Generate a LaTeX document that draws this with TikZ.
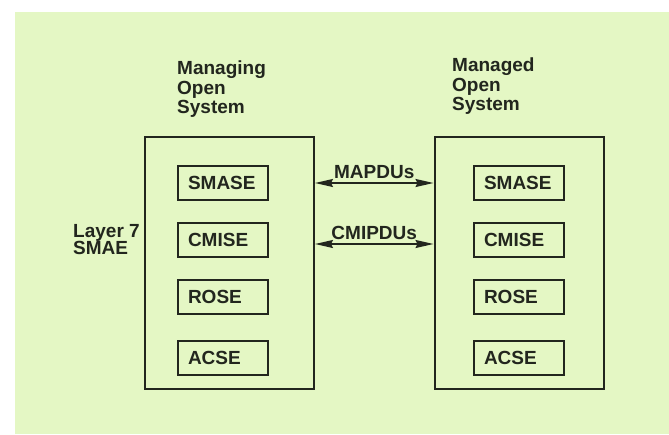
\documentclass[tikz,border=0pt]{standalone}
\usepackage{fontspec}
\setmainfont{Liberation Sans}
\usetikzlibrary{arrows.meta}
\definecolor{paper}{RGB}{228,247,196}
\definecolor{ink}{RGB}{34,38,30}
\newcommand\tightleading{\lineskiplimit=-20pt\relax}

\begin{document}
\begin{tikzpicture}[x=1pt,y=-1pt,
  every node/.style={font=\fontsize{19}{19.3}\selectfont\bfseries, text=ink},
  system/.style={draw=ink, line width=2pt, minimum width=169pt, minimum height=252pt, inner sep=0pt},
  entity/.style={draw=ink, line width=1.8pt, minimum width=90pt, minimum height=34pt, text width=70pt, inner xsep=10pt, inner ysep=0pt, align=left},
  caption/.style={anchor=north west, inner sep=0pt, align=left},
  pdu/.style={draw=ink, line width=1.7pt, {Stealth[length=18pt,width=8pt,inset=2pt]}-{Stealth[length=18pt,width=8pt,inset=2pt]}}]
\useasboundingbox (0,0) rectangle (669,434);
\fill[white] (0,0) rectangle (669,434);
\fill[paper] (15,12) rectangle (669,434);
% the two open systems
\node[system] (managing) at (229.5,262.5) {};
\node[system] (managed) at (519,262.5) {};
\node[caption] (managingtitle) at (177,61) {Managing\\Open\\System};
\node[caption] (managedtitle) at (452,58) {Managed\\Open\\System};
\node[caption, font=\fontsize{19}{17.3}\selectfont\bfseries\tightleading] (layer) at (73,224) {Layer 7\\SMAE};
% application service elements
\foreach \name/\y in {SMASE/183, CMISE/240, ROSE/297, ACSE/358} {
  \node[entity] (l\name) at (223,\y) {\name};
  \node[entity] (r\name) at (519,\y) {\name};
}
% exchanged PDUs
\coordinate (cmiplane) at (373,244);
\draw[pdu] (managing.east |- lSMASE) -- (managed.west |- lSMASE) node[midway, above=3pt, inner sep=0pt] (mapdus) {MAPDUs};
\draw[pdu] (managing.east |- cmiplane) -- (managed.west |- cmiplane) node[midway, above=3pt, inner sep=0pt] (cmipdus) {CMIPDUs};
\end{tikzpicture}
\end{document}
